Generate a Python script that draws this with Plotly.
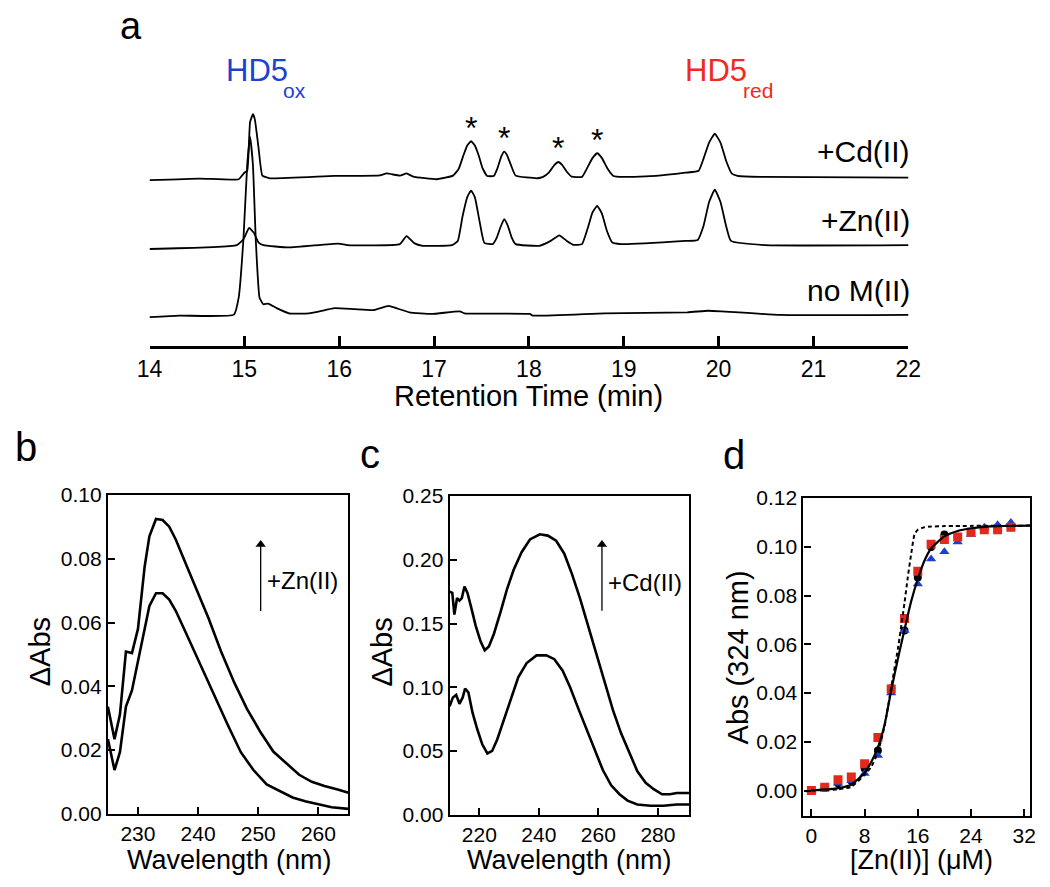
import plotly.graph_objects as go

# ---------------- panel a : HPLC traces (signal above each trace baseline)
cd_time = [14.00, 14.53, 14.94, 15.00, 15.03, 15.06, 15.09, 15.11, 15.15, 15.19, 15.27, 15.95,
           16.43, 16.50, 16.64, 16.71, 16.78, 17.03, 17.20, 17.26, 17.31, 17.35, 17.39, 17.43,
           17.47, 17.51, 17.56, 17.63, 17.67, 17.71, 17.74, 17.77, 17.81, 17.86, 18.09, 18.15,
           18.21, 18.27, 18.31, 18.35, 18.40, 18.45, 18.56, 18.61, 18.67, 18.72, 18.77, 18.83,
           18.89, 19.00, 19.34, 19.65, 19.79, 19.84, 19.90, 19.96, 20.02, 20.08, 20.14, 20.20,
           20.44, 22.03]
cd_signal = [-1.7, 0.0, -0.7, 6.0, 8.0, 58.0, 66.0, 61.0, 31.0, 3.0, 0.3, 2.7,
             3.3, 5.3, 3.0, 5.3, 2.0, -0.7, 3.0, 10.0, 24.0, 34.0, 38.3, 34.0,
             24.0, 11.0, 2.7, 2.7, 11.0, 23.0, 27.7, 24.0, 14.0, 3.0, 0.3, 1.7,
             6.0, 14.0, 17.0, 14.0, 7.0, 2.0, 1.7, 10.0, 21.0, 26.0, 21.0, 10.0,
             2.7, 1.7, 2.7, 6.0, 8.0, 20.0, 37.0, 46.0, 37.0, 18.0, 5.0, 2.7,
             1.7, 1.0]

zn_time = [14.00, 14.92, 14.99, 15.05, 15.10, 15.15, 15.20, 15.47, 15.99, 16.09, 16.64, 16.71,
           16.79, 16.88, 17.19, 17.25, 17.30, 17.35, 17.39, 17.43, 17.48, 17.53, 17.62, 17.66,
           17.70, 17.74, 17.78, 17.82, 17.86, 18.11, 18.23, 18.32, 18.40, 18.47, 18.56, 18.62,
           18.67, 18.72, 18.77, 18.82, 18.88, 18.97, 19.65, 19.78, 19.84, 19.90, 19.96, 20.02,
           20.08, 20.13, 20.49, 22.03]
zn_signal = [-3.3, 0.7, 6.7, 18.3, 13.3, 3.3, 0.7, -1.7, 2.3, 0.7, 1.7, 10.0,
             2.7, 0.0, 0.7, 5.0, 30.0, 50.0, 56.7, 50.0, 25.0, 3.0, 1.7, 8.0,
             19.0, 27.3, 20.0, 8.0, 1.7, 0.0, 5.0, 10.7, 5.0, 1.0, 1.7, 18.0,
             34.0, 41.0, 33.0, 16.0, 3.3, 1.7, 5.0, 6.0, 20.0, 45.0, 57.7, 45.0,
             20.0, 5.0, 0.7, 0.7]

nom_time = [14.00, 14.31, 14.89, 14.94, 14.99, 15.03, 15.06, 15.09, 15.12, 15.16, 15.20, 15.25,
            15.34, 15.47, 15.68, 15.85, 15.95, 16.16, 16.36, 16.52, 16.60, 16.74, 16.98, 17.27,
            17.32, 18.01, 18.04, 18.80, 19.67, 19.89, 20.03, 20.65, 22.03]
nom_signal = [-2.3, -0.7, 0.3, 17.7, 77.7, 154.3, 182.7, 154.3, 77.7, 17.7, 11.0, 11.7,
              7.0, 1.7, 1.7, 5.0, 7.0, 6.0, 5.0, 9.3, 7.0, 2.7, 1.0, 3.7,
              1.7, 1.0, -0.7, 1.7, 2.7, 4.3, 3.7, 0.0, 0.0]

star_time = [17.39, 17.74, 18.31, 18.72]
star_peak = [38.3, 27.7, 17.0, 26.0]

trace_names = ["+Cd(II)", "+Zn(II)", "no M(II)"]
a_ticks = [14, 15, 16, 17, 18, 19, 20, 21, 22]

# ---------------- panel b : difference spectra, Zn(II)
b_wl = [225.0, 226.1, 227.0, 228.0, 229.0, 230.0, 231.1, 231.9, 233.0, 234.1, 235.2, 236.3,
        238.4, 240.1, 241.7, 243.8, 246.0, 248.1, 250.3, 252.5, 254.6, 256.8, 258.9, 261.0,
        263.2, 265.0]
b_high = [0.0336, 0.0234, 0.0311, 0.0509, 0.0504, 0.0580, 0.0774, 0.0871, 0.0925, 0.0922,
          0.0901, 0.0860, 0.0764, 0.0690, 0.0615, 0.0510, 0.0412, 0.0330, 0.0258, 0.0195,
          0.0158, 0.0122, 0.0100, 0.0087, 0.0076, 0.0066]
b_wl_low = [225.0, 226.1, 227.0, 228.0, 229.0, 230.0, 231.1, 231.9, 233.0, 234.1, 235.2, 236.3,
            238.4, 240.6, 242.8, 244.9, 247.1, 249.2, 251.4, 253.5, 255.7, 257.8, 260.0, 262.2,
            265.0]
b_low = [0.0234, 0.0137, 0.0193, 0.0336, 0.0387, 0.0479, 0.0570, 0.0652, 0.0692, 0.0692,
         0.0672, 0.0636, 0.0550, 0.0458, 0.0367, 0.0280, 0.0193, 0.0137, 0.0092, 0.0071,
         0.0051, 0.0039, 0.0029, 0.0020, 0.0015]

# ---------------- panel c : difference spectra, Cd(II)
c_wl = [210.0, 210.9, 211.6, 212.5, 213.3, 214.1, 215.0, 216.0, 217.1, 218.8, 220.4, 221.8,
        223.2, 224.9, 227.1, 229.3, 231.5, 234.2, 237.0, 240.3, 243.0, 245.8, 248.5, 251.1,
        253.8, 256.6, 259.3, 262.1, 264.9, 267.6, 270.4, 273.1, 275.9, 278.6, 281.4, 284.1,
        286.3, 290.5]
c_high = [0.175, 0.174, 0.157, 0.170, 0.168, 0.170, 0.179, 0.174, 0.164, 0.148, 0.136, 0.129,
          0.132, 0.142, 0.159, 0.177, 0.192, 0.206, 0.216, 0.220, 0.219, 0.215, 0.205, 0.189,
          0.170, 0.148, 0.126, 0.103, 0.082, 0.064, 0.049, 0.034, 0.025, 0.020, 0.016, 0.016,
          0.017, 0.017]
c_wl_low = [210.0, 211.1, 212.2, 213.3, 214.4, 215.2, 216.3, 217.7, 219.3, 221.0, 222.7, 224.3,
            226.0, 228.2, 230.4, 233.1, 235.9, 239.2, 242.5, 245.2, 248.0, 250.5, 253.3, 256.0,
            258.8, 261.5, 264.3, 267.1, 269.8, 273.1, 277.5, 281.9, 286.3, 290.5]
c_low = [0.085, 0.092, 0.094, 0.087, 0.092, 0.099, 0.096, 0.080, 0.067, 0.055, 0.048, 0.050,
         0.059, 0.074, 0.090, 0.108, 0.119, 0.125, 0.125, 0.122, 0.113, 0.100, 0.083, 0.067,
         0.050, 0.035, 0.023, 0.016, 0.011, 0.008, 0.007, 0.007, 0.008, 0.008]

# ---------------- panel d : Zn(II) titration, Abs at 324 nm
d_conc = [0, 2, 4, 6, 8, 10, 12, 14, 16, 18, 20, 22, 24, 26, 28, 30]
d_black = [0.000, 0.001, 0.003, 0.004, 0.009, 0.0164, 0.042, 0.0657, 0.0874, 0.0999,
           0.105, 0.104, 0.106, 0.107, 0.108, 0.108]
d_blue = [0.000, 0.0013, 0.003, 0.004, 0.007, 0.0144, 0.040, 0.0657, 0.0847, 0.095,
          0.098, 0.102, 0.105, 0.108, 0.109, 0.110]
d_red = [0.000, 0.0013, 0.0044, 0.0055, 0.011, 0.0217, 0.0417, 0.0706, 0.090, 0.101,
         0.103, 0.104, 0.106, 0.107, 0.107, 0.108]

fit_conc = [0, 4, 6, 8, 9, 10, 11, 12, 13, 14, 15, 16, 17, 18, 20, 22, 24, 26, 28, 32.9]
fit_solid = [0.0, 0.001, 0.0024, 0.0073, 0.0117, 0.0177, 0.027, 0.041, 0.054, 0.066, 0.0776,
             0.0868, 0.0943, 0.0993, 0.1043, 0.1065, 0.1076, 0.1082, 0.1085, 0.1087]
dash_conc = [0, 4, 6, 8, 9, 10, 11, 12, 13, 14, 14.5, 15, 15.5, 16, 17, 18, 20, 32.9]
fit_dash = [0.0, 0.0005, 0.0015, 0.0064, 0.0097, 0.0157, 0.0264, 0.0423, 0.058, 0.077,
            0.0876, 0.097, 0.105, 0.107, 0.108, 0.1083, 0.1085, 0.1087]

W, H = 1050, 887
FONT = "Liberation Sans, Arial, sans-serif"
BLUE = "#1c3fd4"
RED = "#ee2b1c"


def px(x):
    return x / W


def py(y):
    return 1 - y / H


offsets = [172, 103, 32]
series_a = [(cd_time, cd_signal), (zn_time, zn_signal), (nom_time, nom_signal)]

fig = go.Figure()

for (t, s), off in zip(series_a, offsets):
    fig.add_trace(go.Scatter(x=t, y=[v + off for v in s], mode="lines",
                             line=dict(color="black", width=1.8, shape="spline", smoothing=0.4),
                             xaxis="x", yaxis="y", showlegend=False))

# panel b
line_kw = dict(color="black", width=2.6)
fig.add_trace(go.Scatter(x=b_wl, y=b_high, mode="lines", line=line_kw, xaxis="x2", yaxis="y2", showlegend=False))
fig.add_trace(go.Scatter(x=b_wl_low, y=b_low, mode="lines", line=line_kw, xaxis="x2", yaxis="y2", showlegend=False))

# panel c
fig.add_trace(go.Scatter(x=c_wl, y=c_high, mode="lines", line=line_kw, xaxis="x3", yaxis="y3", showlegend=False))
fig.add_trace(go.Scatter(x=c_wl_low, y=c_low, mode="lines", line=line_kw, xaxis="x3", yaxis="y3", showlegend=False))

# arrows in b and c (shaft + head)
for xa, ya, (x0, y0, y1) in [("x2", "y2", (250.4, 0.0636, 0.0845)), ("x3", "y3", (261.2, 0.160, 0.212))]:
    fig.add_trace(go.Scatter(x=[x0, x0], y=[y0, y1], mode="lines", line=dict(color="black", width=1.3),
                             xaxis=xa, yaxis=ya, showlegend=False))
    fig.add_trace(go.Scatter(x=[x0], y=[y1], mode="markers",
                             marker=dict(symbol="triangle-up", size=9, color="black"),
                             xaxis=xa, yaxis=ya, showlegend=False))

# panel d
fig.add_trace(go.Scatter(x=d_conc, y=d_black, mode="markers",
                         marker=dict(symbol="circle", size=8, color="black"),
                         xaxis="x4", yaxis="y4", showlegend=False))
fig.add_trace(go.Scatter(x=d_conc, y=d_blue, mode="markers",
                         marker=dict(symbol="triangle-up", size=9, color="#1d3fd0"),
                         xaxis="x4", yaxis="y4", showlegend=False))
fig.add_trace(go.Scatter(x=d_conc, y=d_red, mode="markers",
                         marker=dict(symbol="square", size=9, color="#e3281c"),
                         xaxis="x4", yaxis="y4", showlegend=False))
fig.add_trace(go.Scatter(x=dash_conc, y=fit_dash, mode="lines",
                         line=dict(color="black", width=2, dash="4px,3px", shape="spline", smoothing=0.5),
                         xaxis="x4", yaxis="y4", showlegend=False))
fig.add_trace(go.Scatter(x=fit_conc, y=fit_solid, mode="lines",
                         line=dict(color="black", width=2.2, shape="spline", smoothing=0.5),
                         xaxis="x4", yaxis="y4", showlegend=False))

tickfont = dict(family=FONT, size=21, color="black")
box = dict(showline=True, linecolor="black", linewidth=2.2, mirror=True, ticks="inside",
           ticklen=7, tickwidth=2, tickcolor="black", showgrid=False, zeroline=False,
           tickfont=tickfont)

fig.update_layout(
    width=W, height=H,
    margin=dict(l=0, r=0, t=0, b=0),
    paper_bgcolor="white", plot_bgcolor="white",
    font=dict(family=FONT, color="black"),
    xaxis=dict(domain=[px(140), px(918)], range=[14, 22], tickvals=a_ticks,
               showline=True, linecolor="black", linewidth=3, ticks="inside", ticklen=10,
               tickwidth=3, tickcolor="black", showgrid=False, zeroline=False,
               tickfont=dict(family=FONT, size=23, color="black"), anchor="y"),
    yaxis=dict(domain=[py(343), py(40)], range=[0, 303], visible=False, anchor="x"),
    xaxis2=dict(box, domain=[px(97.3), px(344)], range=[225, 265], tickvals=[230, 240, 250, 260], anchor="y2"),
    yaxis2=dict(box, domain=[py(823), py(496)], range=[0, 0.10], tickvals=[0, 0.02, 0.04, 0.06, 0.08, 0.10],
                tickformat=".2f", anchor="x2"),
    xaxis3=dict(box, domain=[px(447.7), px(693.3)], range=[210, 290.5], tickvals=[220, 240, 260, 280], anchor="y3"),
    yaxis3=dict(box, domain=[py(824), py(497)], range=[0, 0.25], tickvals=[0, 0.05, 0.10, 0.15, 0.20, 0.25],
                tickformat=".2f", anchor="x3"),
    xaxis4=dict(box, domain=[px(810.5), px(1043)], range=[-1.2, 32.9], tickvals=[0, 8, 16, 24, 32], anchor="y4"),
    yaxis4=dict(box, domain=[py(825), py(499)], range=[-0.0103, 0.12],
                tickvals=[0, 0.02, 0.04, 0.06, 0.08, 0.10, 0.12], tickformat=".2f", anchor="x4"),
)

ann = []


def label(text, x, y, size, xanchor="center", yanchor="middle", color="black", angle=0):
    ann.append(dict(text=text, x=px(x), y=py(y), xref="paper", yref="paper", showarrow=False,
                    xanchor=xanchor, yanchor=yanchor, textangle=angle,
                    font=dict(family=FONT, size=size, color=color)))


# panel letters
label("a", 121, 14, 38)
label("b", 0, 447, 40, xanchor="left")
label("c", 366, 454, 40)
label("d", 739, 455, 40)

# peak stars above the +Cd(II) trace
for t, p in zip(star_time, star_peak):
    ann.append(dict(x=t, y=p + offsets[0] + 14, xref="x", yref="y", text="*", showarrow=False,
                    xanchor="center", yanchor="middle", font=dict(family=FONT, size=32, color="black")))

# panel a text (main label and subscript as separate texts)
label("HD5", 216, 60, 31, xanchor="left", color=BLUE)
label("ox", 275, 81, 21, xanchor="left", color=BLUE)
label("HD5", 687, 60, 31, xanchor="left", color=RED)
label("red", 746, 81, 21, xanchor="left", color=RED)
for name, yy in zip(trace_names, [143, 214, 286]):
    label(name, 922, yy, 30, xanchor="right")
label("Retention Time (min)", 529, 394, 29)

# axis titles
label("Wavelength (nm)", 222, 871, 27)
label("Wavelength (nm)", 571, 871, 27)
label("[Zn(II)] (μM)", 932, 871, 27)
label("ΔAbs", 28, 657, 29, angle=-90)
label("ΔAbs", 378, 657, 29, angle=-90)
label("Abs (324 nm)", 743, 663, 29, angle=-90)

# arrow labels
ann.append(dict(x=251.2, y=0.0733, xref="x2", yref="y2", text="+Zn(II)", showarrow=False,
                xanchor="left", yanchor="middle", font=dict(family=FONT, size=24, color="black")))
ann.append(dict(x=262.7, y=0.182, xref="x3", yref="y3", text="+Cd(II)", showarrow=False,
                xanchor="left", yanchor="middle", font=dict(family=FONT, size=24, color="black")))

fig.update_layout(annotations=ann)

fig.write_html("out.html", config={"displayModeBar": False},
               post_script="document.body.style.margin='0';document.body.style.overflow='hidden';")
